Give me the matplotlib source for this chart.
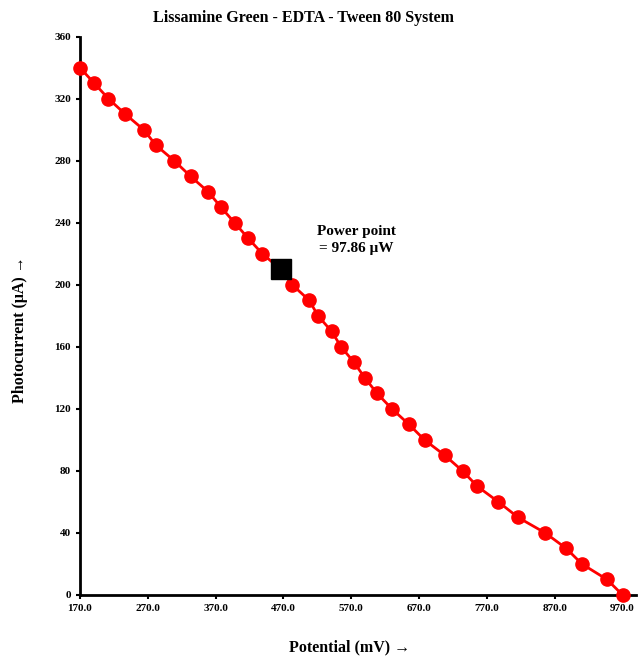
import matplotlib
matplotlib.use('Agg')
import matplotlib.pyplot as plt
import numpy as np

plt.rcParams['font.family'] = 'serif'
plt.rcParams['font.serif'] = ['Liberation Serif', 'DejaVu Serif']
plt.rcParams['font.weight'] = 'bold'

# potential (mV) and photocurrent (uA)
potential = [170, 191, 212, 237, 264, 282, 309, 333, 359, 378,
             398, 418, 439, 466, 483, 508, 521, 541, 555, 574,
             590, 608, 630, 655, 678, 708, 734, 756, 787, 816,
             856, 887, 910, 947, 970]
current = [340, 330, 320, 310, 300, 290, 280, 270, 260, 250,
           240, 230, 220, 210, 200, 190, 180, 170, 160, 150,
           140, 130, 120, 110, 100, 90, 80, 70, 60, 50,
           40, 30, 20, 10, 0]
power_v = 466
power_i = 210
x_ticks = [170, 270, 370, 470, 570, 670, 770, 870, 970]
y_ticks = [0, 40, 80, 120, 160, 200, 240, 280, 320, 360]

fig = plt.figure(figsize=(6.4, 6.56), dpi=100)
ax = fig.add_axes([0.125, 0.093, 0.869, 0.851])

# main curve, power point drawn separately as black square
idx = potential.index(power_v)
ax.plot(potential, current, color='red', linewidth=2, zorder=2, clip_on=False)
others_v = [v for i, v in enumerate(potential) if i != idx]
others_i = [c for i, c in enumerate(current) if i != idx]
ax.plot(others_v, others_i, 'o', color='red', markersize=9.5, zorder=3,
        clip_on=False)
ax.plot([power_v], [power_i], 's', color='black', markersize=15, zorder=4)

ax.text(577, 229, 'Power point\n= 97.86 μW', ha='center', va='center',
        fontsize=11, fontweight='bold', linespacing=1.35)

ax.set_xlim(170, 990)
ax.set_ylim(0, 360)
ax.set_xticks(x_ticks)
ax.set_xticklabels(['%.1f' % t for t in x_ticks])
ax.set_yticks(y_ticks)
ax.tick_params(labelsize=8, width=1.5, length=3)
for lab in ax.get_xticklabels() + ax.get_yticklabels():
    lab.set_fontweight('bold')

for s in ['top', 'right']:
    ax.spines[s].set_visible(False)
for s in ['left', 'bottom']:
    ax.spines[s].set_linewidth(2)

ax.set_xlabel('Potential (mV) →', fontsize=11.5, fontweight='bold')
ax.xaxis.set_label_coords(0.485, -0.08)
ax.set_ylabel('Photocurrent (μA) →', fontsize=11.5, fontweight='bold')
ax.yaxis.set_label_coords(-0.093, 0.475)
fig.text(0.474, 0.972, 'Lissamine Green - EDTA - Tween 80 System', ha='center',
         va='center', fontsize=11.5, fontweight='bold')

fig.savefig('out.png', dpi=100)
